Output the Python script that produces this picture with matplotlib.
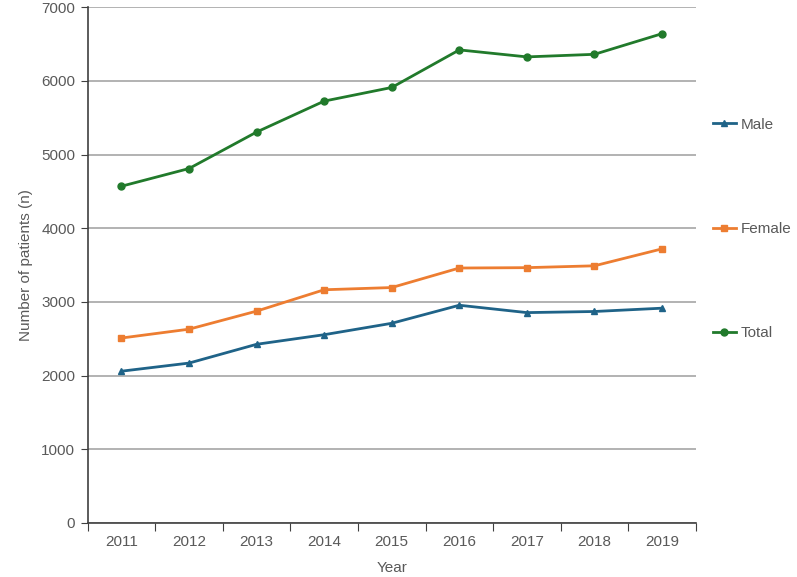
import numpy as np
import matplotlib.pyplot as plt
from matplotlib.ticker import FixedLocator, NullFormatter, FixedFormatter

plt.rcParams['font.family'] = ['Liberation Sans Narrow', 'Liberation Sans', 'DejaVu Sans']

anios = ['2011', '2012', '2013', '2014', '2015', '2016', '2017', '2018', '2019']
hombres = [2060, 2170, 2425, 2555, 2710, 2955, 2855, 2870, 2915]
mujeres = [2510, 2630, 2875, 3165, 3195, 3460, 3465, 3490, 3720]
total = [4570, 4810, 5305, 5725, 5910, 6420, 6325, 6360, 6640]

color_texto = '#595959'
fig = plt.figure(figsize=(7.97, 5.77), dpi=100)
ax = fig.add_axes([0.110, 0.0936, 0.763, 0.894])

x = np.arange(len(anios))
ax.plot(x, hombres, marker='^', markersize=5, color='#1f6388', linewidth=2, label='Male')
ax.plot(x, mujeres, marker='s', markersize=5, color='#ed7d31', linewidth=2, label='Female')
ax.plot(x, total, marker='o', markersize=5, color='#217a2b', linewidth=2, label='Total')

ax.set_ylim(0, 7000)
ax.set_xlim(-0.5, len(anios) - 0.5)
ax.set_yticks(np.arange(0, 7001, 1000))
ax.yaxis.grid(True, color='#a6a6a6', linewidth=1.2)
ax.set_axisbelow(True)

# marcas entre categorias, etiquetas centradas
ax.xaxis.set_major_locator(FixedLocator(np.arange(-0.5, len(anios), 1.0)))
ax.xaxis.set_major_formatter(NullFormatter())
ax.xaxis.set_minor_locator(FixedLocator(x))
ax.xaxis.set_minor_formatter(FixedFormatter(anios))
ax.tick_params(axis='x', which='major', length=6, color='#404040', direction='out')
ax.tick_params(axis='x', which='minor', length=0, pad=9, labelsize=11, labelcolor=color_texto)
ax.tick_params(axis='y', length=5, color='#404040', labelsize=11, labelcolor=color_texto, pad=4)

for lado in ['top', 'right']:
    ax.spines[lado].set_visible(False)
for lado in ['left', 'bottom']:
    ax.spines[lado].set_color('#404040')
    ax.spines[lado].set_linewidth(1.2)

ax.set_xlabel('Year', fontsize=11, color=color_texto, labelpad=8)
ax.set_ylabel('Number of patients (n)', fontsize=11, color=color_texto, labelpad=6)

ley = ax.legend(loc='center left', bbox_to_anchor=(1.028, 0.570), frameon=False,
                fontsize=11, labelspacing=5.9, handlelength=1.5, handletextpad=0.3,
                labelcolor=color_texto, borderaxespad=0, borderpad=0)

plt.savefig('out.png', dpi=100)
plt.close()
